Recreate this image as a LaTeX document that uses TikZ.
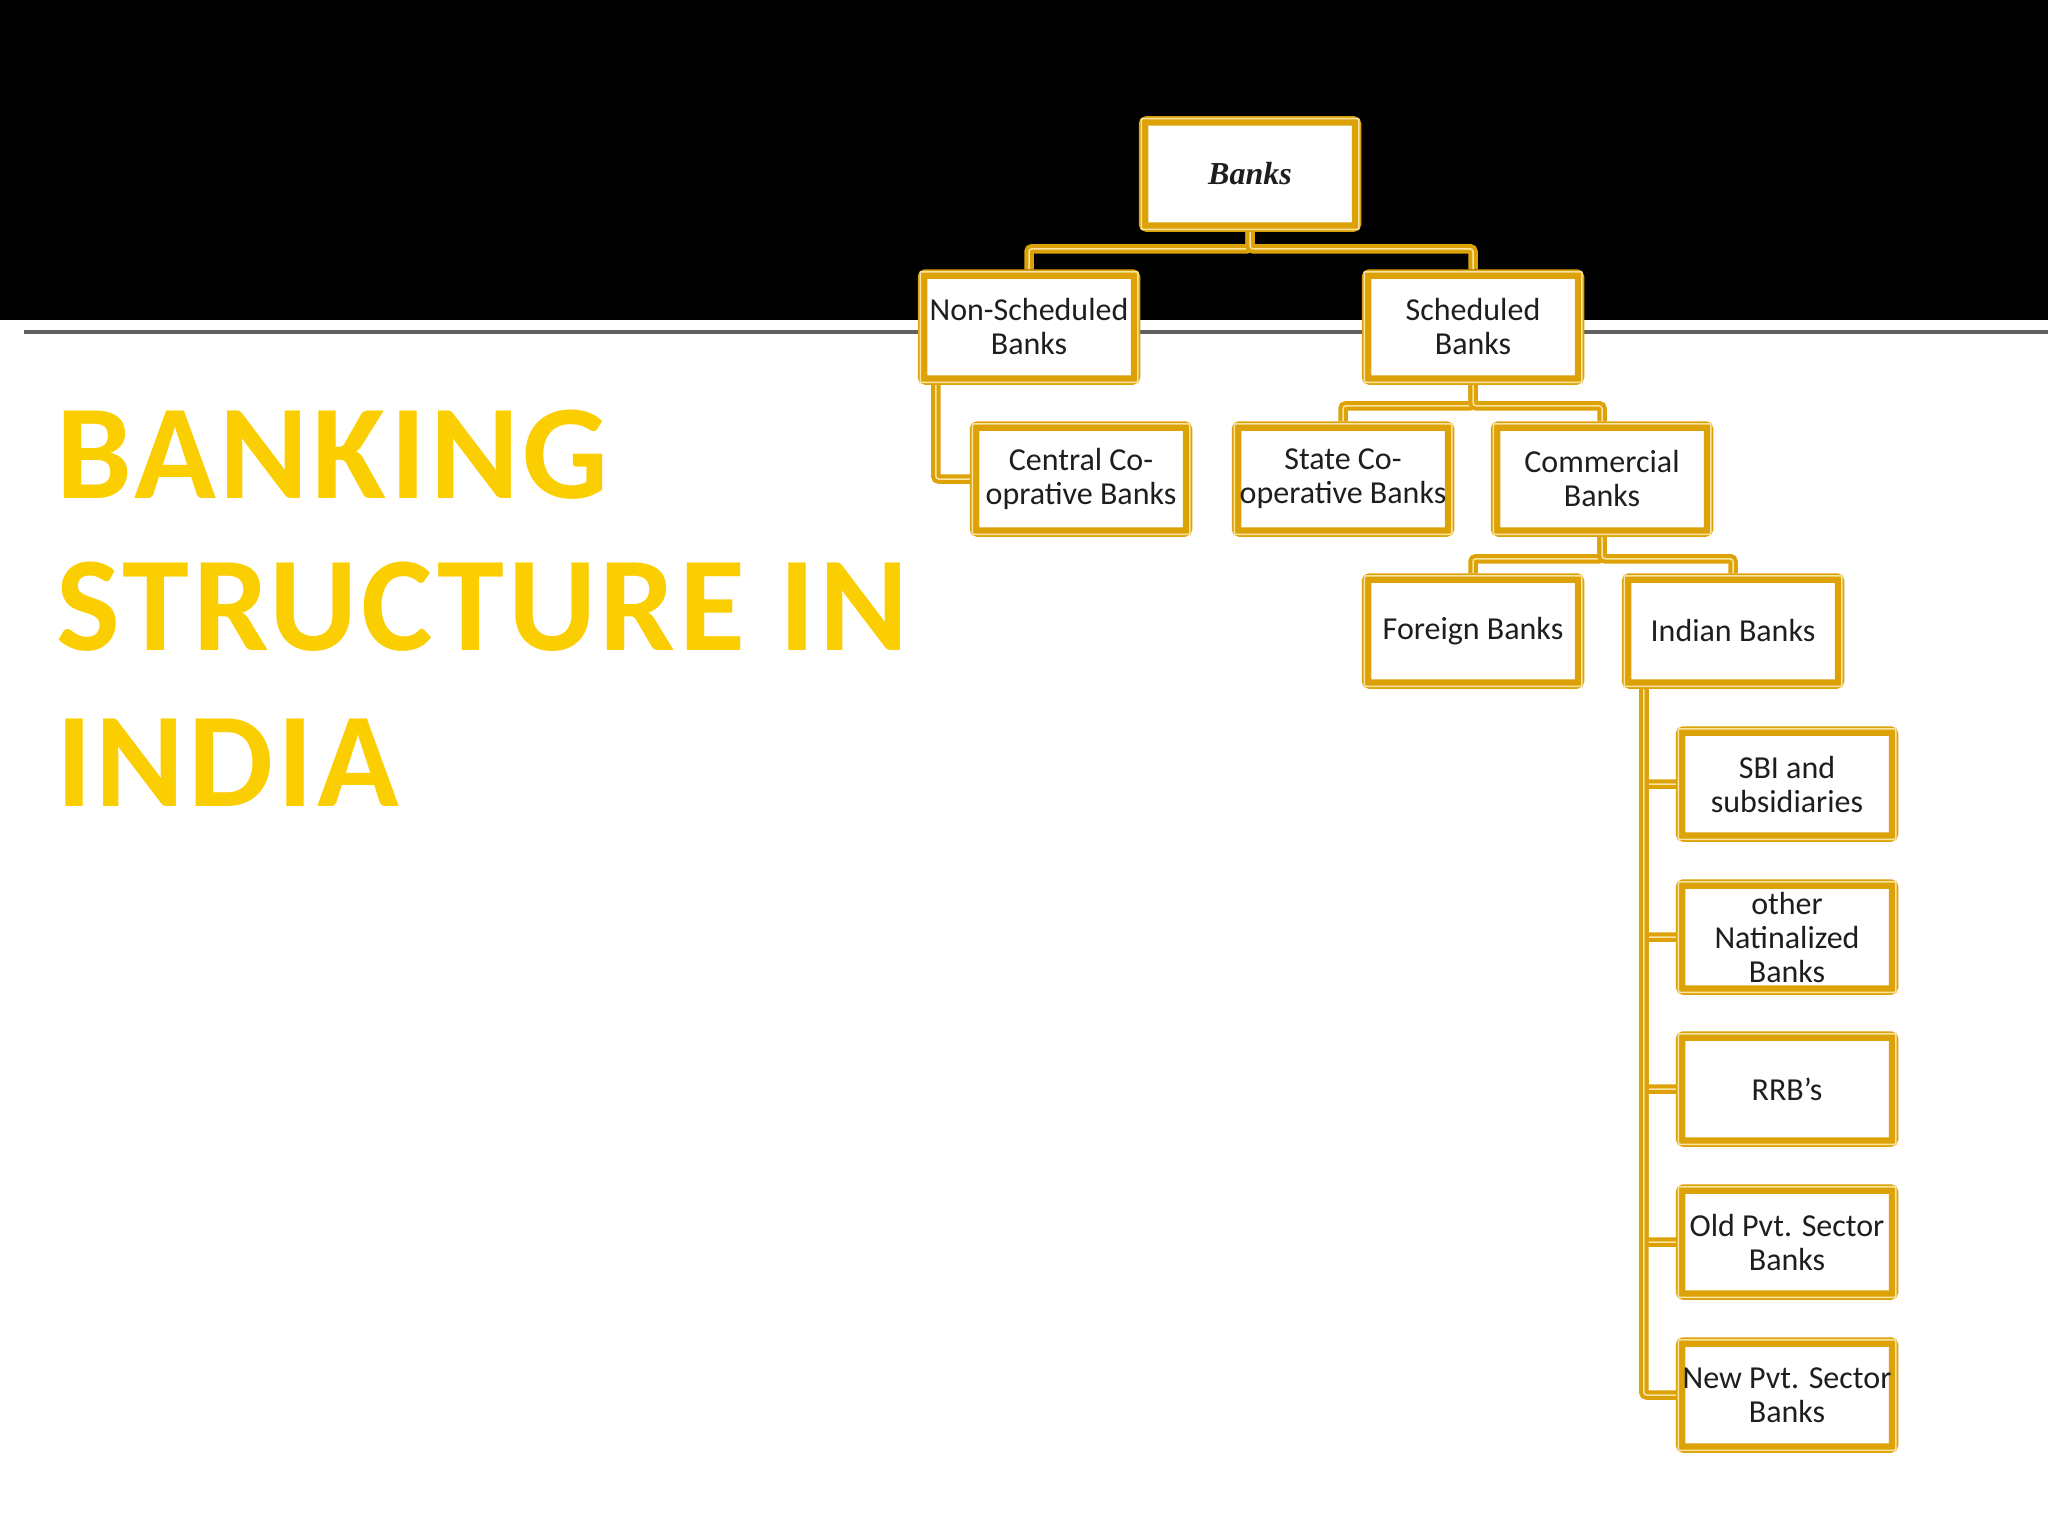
\documentclass[tikz,border=0pt]{standalone}
\usepackage{fontspec}
\setmainfont{Carlito}
\newfontfamily\serifbanks{Liberation Serif}
\newfontfamily\titlefont[LetterSpace=2.8]{Carlito}
\usetikzlibrary{positioning}
\definecolor{boxgold}{RGB}{220,162,8}
\definecolor{palegold}{RGB}{250,228,160}
\definecolor{titleyellow}{RGB}{250,206,0}
\definecolor{bandline}{RGB}{95,95,95}
\definecolor{boxtext}{RGB}{30,30,30}
\pgfdeclarelayer{band}
\pgfdeclarelayer{links}
\pgfsetlayers{band,links,main}
\begin{document}
\begin{tikzpicture}[x=1pt,y=-1pt,
    bankbox/.style={draw=boxgold, line width=9.5pt, rounded corners=3pt, fill=white, minimum width=213pt, minimum height=106pt, inner sep=0pt, align=center, text=boxtext, font=\fontsize{32}{34}\selectfont},
    link/.style={draw=boxgold, line width=4pt, double=palegold, double distance=1.5pt, rounded corners=3pt},
    titleline/.style={anchor=base west, inner sep=0pt, text=titleyellow, font=\titlefont\fontsize{135}{150}\selectfont\bfseries}]
  \useasboundingbox (0,0) rectangle (2048,1536);
  \begin{pgfonlayer}{band}
    \fill[white] (0,0) rectangle (2048,1536);
    \fill[black] (0,0) rectangle (2048,320);
    \draw[bandline, line width=3.5pt] (24,332) -- (2048,332);
  \end{pgfonlayer}
  % title
  \node[titleline] (title1) at (56,498) {BANKING};
  \node[titleline] (title2) at (56,650) {STRUCTURE IN};
  \node[titleline] (title3) at (56,806) {INDIA};
  % tree
  \node[bankbox, font=\serifbanks\fontsize{32}{34}\selectfont\bfseries\itshape] (banks) at (1250,174) {Banks};
  \node[bankbox] (nsb) at (1029,327) {Non-Scheduled\\Banks};
  \node[bankbox] (sb) at (1473,327) {Scheduled\\Banks};
  \node[bankbox] (ccb) at (1081,479) {Central Co-\\oprative Banks};
  \node[bankbox] (scb) at (1343,479) {State Co-\\operative Banks};
  \node[bankbox] (cb) at (1602,479) {Commercial\\Banks};
  \node[bankbox] (fb) at (1473,631) {Foreign Banks};
  \node[bankbox] (ib) at (1733,631) {Indian Banks};
  \node[bankbox] (sbi) at (1787,784) {SBI and\\subsidiaries};
  \node[bankbox] (onb) at (1787,937) {other\\Natinalized\\Banks};
  \node[bankbox] (rrb) at (1787,1089) {RRB's};
  \node[bankbox] (opb) at (1787,1242) {Old Pvt. Sector\\Banks};
  \node[bankbox] (npb) at (1787,1395) {New Pvt. Sector\\Banks};
  \foreach \n in {banks,nsb,sb,ccb,scb,cb,fb,ib,sbi,onb,rrb,opb,npb}
    \draw[palegold, line width=1.5pt, rounded corners=1pt] ([shift={(2.5pt,2.5pt)}]\n.south west) rectangle ([shift={(-2.5pt,-2.5pt)}]\n.north east);
  % connectors
  \begin{pgfonlayer}{links}
    \draw[link] (banks.south) -- ++(0,17) -| (nsb.north);
    \draw[link] (banks.south) -- ++(0,17) -| (sb.north);
    \draw[link] ([xshift=18pt]nsb.south west) |- (ccb.west);
    \draw[link] (sb.south) -- ++(0,21) -| (scb.north);
    \draw[link] (sb.south) -- ++(0,21) -| (cb.north);
    \draw[link] (cb.south) -- ++(0,22) -| (fb.north);
    \draw[link] (cb.south) -- ++(0,22) -| (ib.north);
    \foreach \n in {sbi,onb,rrb,opb,npb}
      \draw[link] ([xshift=22pt]ib.south west) |- (\n.west);
  \end{pgfonlayer}
\end{tikzpicture}
\end{document}
